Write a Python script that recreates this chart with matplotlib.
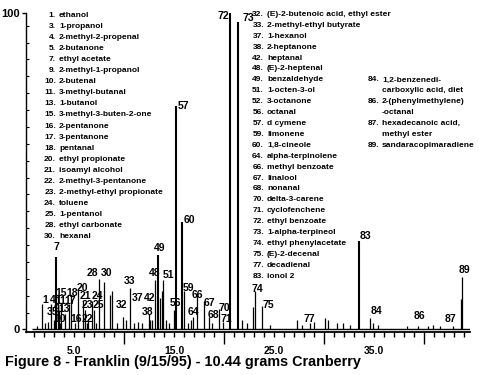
import matplotlib
matplotlib.use('Agg')
import matplotlib.pyplot as plt
import numpy as np

# peak table: retention time (min), relative height, label
peak_rt = [1.8, 2.4, 2.7, 3.0, 3.2, 3.45, 3.6, 3.7, 4.1, 3.35, 5.1, 4.5, 4.7,
           5.4, 5.9, 6.3, 6.1, 6.8, 7.0, 7.5, 8.0, 9.9, 10.6, 11.4, 12.45, 12.6,
           13.1, 13.4, 13.9, 15.0, 15.2, 16.0, 15.8, 16.9, 17.3, 18.0, 18.5,
           19.5, 19.9, 20.6, 21.4, 23.1, 23.8, 28.6, 33.5, 34.6, 39.4, 42.9, 43.8]
peak_h = [8, 2.5, 8, 3, 23, 6, 2, 8, 5, 11, 2, 8, 11,
          12.5, 9, 2, 6, 9, 6, 16, 15, 4, 13, 2.5, 5, 3,
          15.5, 23.5, 15.5, 6, 70.5, 12, 34, 4, 11.5, 9, 4,
          6.5, 2.5, 100, 97, 12, 7.5, 2, 28, 3.5, 1, 1, 16.5]
peak_label = ['1', '3', '4', '5', '7', '9', '10', '11', '13', '15', '16', '17', '18',
              '20', '21', '22', '23', '24', '25', '28', '30', '32', '33', '37', '38', '42',
              '48', '49', '51', '56', '57', '59', '60', '64', '66', '67', '68',
              '70', '71', '72', '73', '74', '75', '77', '83', '84', '86', '87', '89']

# unlabeled peaks
small_rt = [1.3, 2.1, 6.4, 7.2, 8.6, 8.8, 9.3, 10.2, 11.0, 11.8, 12.8, 13.6, 13.75,
            14.2, 14.5, 16.4, 16.7, 18.8, 21.8, 22.3, 22.9, 24.6, 27.3, 27.8, 29.0,
            30.1, 30.4, 31.3, 31.9, 32.6, 34.9, 35.4, 38.3, 40.4, 40.9, 41.6, 43.7]
small_h = [1, 2, 3, 2, 11, 12, 2, 3, 2, 2, 3, 10, 12,
           3, 2, 2, 3, 2, 3, 2, 7, 1.5, 3, 1.5, 2.5,
           3.5, 3, 2, 2, 1.5, 2, 1.5, 1, 1, 1.5, 1, 9.5]

legend_left = ['1. ethanol', '3. 1-propanol', '4. 2-methyl-2-propenal', '5. 2-butanone',
               '7. ethyl acetate', '9. 2-methyl-1-propanol', '10. 2-butenal',
               '11. 3-methyl-butanal', '13. 1-butanol', '15. 3-methyl-3-buten-2-one',
               '16. 2-pentanone', '17. 3-pentanone', '18. pentanal', '20. ethyl propionate',
               '21. isoamyl alcohol', '22. 2-methyl-3-pentanone',
               '23. 2-methyl-ethyl propionate', '24. toluene', '25. 1-pentanol',
               '28. ethyl carbonate', '30. hexanal']
legend_mid = ['32. (E)-2-butenoic acid, ethyl ester', '33. 2-methyl-ethyl butyrate',
              '37. 1-hexanol', '38. 2-heptanone', '42. heptanal', '48. (E)-2-heptenal',
              '49. benzaldehyde', '51. 1-octen-3-ol', '52. 3-octanone', '56. octanal',
              '57. d cymene', '59. limonene', '60. 1,8-cineole', '64. alpha-terpinolene',
              '66. methyl benzoate', '67. linalool', '68. nonanal', '70. delta-3-carene',
              '71. cyclofenchene', '72. ethyl benzoate', '73. 1-alpha-terpineol',
              '74. ethyl phenylacetate', '75. (E)-2-decenal', '77. decadienal', '83. ionol 2']
legend_right = ['84. 1,2-benzenedi-', '   carboxylic acid, diet', '86. 2-(phenylmethylene)',
                '   -octanal', '87. hexadecanoic acid,', '   methyl ester',
                '89. sandaracopimaradiene']

# where each peak number is written (x, bottom y, alignment)
label_pos = {
    '1': (2.1, 7.8, 'center'), '4': (2.85, 7.8, 'center'),
    '3': (2.55, 3.8, 'center'), '5': (3.05, 3.8, 'center'),
    '7': (3.2, 24.5, 'center'),
    '15': (3.75, 10.0, 'center'), '18': (4.85, 10.0, 'center'),
    '11': (3.7, 7.5, 'center'), '17': (4.6, 7.5, 'center'),
    '9': (3.2, 5.0, 'center'), '13': (4.05, 5.0, 'center'),
    '10': (3.6, 1.6, 'center'), '16': (5.2, 1.6, 'center'), '22': (6.35, 1.6, 'center'),
    '20': (5.85, 11.6, 'center'),
    '21': (6.1, 9.1, 'center'), '24': (7.3, 9.1, 'center'),
    '23': (6.3, 6.0, 'center'), '25': (7.45, 6.0, 'center'),
    '28': (7.45, 16.3, 'right'), '30': (8.3, 16.3, 'center'),
    '32': (9.75, 6.3, 'center'), '33': (10.6, 13.8, 'center'),
    '37': (11.35, 8.5, 'center'), '42': (12.55, 8.5, 'center'),
    '38': (12.35, 3.8, 'center'),
    '48': (13.1, 16.3, 'center'), '49': (13.6, 24.1, 'center'),
    '51': (13.85, 15.7, 'left'),
    '56': (14.6, 6.9, 'left'), '57': (15.35, 69.0, 'left'),
    '59': (15.9, 11.6, 'left'), '60': (15.95, 33.0, 'left'),
    '64': (16.9, 3.8, 'center'), '66': (17.3, 9.4, 'center'),
    '67': (18.55, 6.9, 'center'), '68': (18.95, 3.1, 'center'),
    '70': (20.0, 5.3, 'center'), '71': (20.25, 1.6, 'center'),
    '72': (20.5, 97.5, 'right'), '73': (21.85, 96.8, 'left'),
    '74': (23.3, 11.3, 'center'), '75': (23.85, 6.0, 'left'),
    '77': (28.55, 1.6, 'center'), '83': (33.6, 27.9, 'left'),
    '84': (35.2, 4.4, 'center'), '86': (39.5, 2.8, 'center'),
    '87': (42.6, 1.6, 'center'), '89': (44.0, 17.2, 'center'),
}

W, H = 479, 375
FONT = ['Liberation Sans', 'DejaVu Sans']

fig = plt.figure(figsize=(W / 100, H / 100), dpi=100)
ax = fig.add_axes([26 / W, 43 / H, 444 / W, 319 / H])
ax.set_xlim(0.2, 44.6)
ax.set_ylim(-0.8, 100)

all_rt = np.array(peak_rt + small_rt)
all_h = np.array(peak_h + small_h)
lw = np.where(all_h > 20, 1.5, 0.9)
ax.vlines(all_rt, 0, all_h, colors='black', linewidth=lw)
ax.hlines(0, 0.8, 44.6, colors='black', linewidth=1.0)

for lab in peak_label:
    x, y, ha = label_pos[lab]
    ax.text(x, y, lab, ha=ha, va='bottom', fontsize=7.5, fontweight='bold',
            family=FONT)

for s in ['top', 'right']:
    ax.spines[s].set_visible(False)
ax.spines['left'].set_linewidth(1.0)
ax.spines['bottom'].set_linewidth(1.3)

# x axis: long ticks every 10, short every 1, labels at 5, 15, 25, 35
ax.set_xticks([10, 20, 30, 40], labels=['', '', '', ''])
minor = [t for t in range(1, 45) if t % 10 != 0]
ax.set_xticks(minor, labels=[f'{t:.1f}' if t % 10 == 5 else '' for t in minor], minor=True)
ax.tick_params(axis='x', which='major', length=8.5, width=1.0, direction='out')
ax.tick_params(axis='x', which='minor', length=3.8, width=1.0, direction='out', pad=6)
for t in ax.get_xticklabels(minor=True):
    t.set_fontsize(7.5)
    t.set_fontweight('bold')
    t.set_family(FONT)

ystep = 100 / 18.75
ax.set_yticks([0, 100], labels=['0', '100'])
ax.set_yticks([k * ystep for k in range(1, 19)], minor=True)
ax.tick_params(axis='y', which='major', length=3, width=1.0, direction='out', pad=1.5)
ax.tick_params(axis='y', which='minor', length=2, width=0.8, direction='in')
for t in ax.get_yticklabels():
    t.set_fontsize(8)
    t.set_fontweight('bold')
    t.set_family(FONT)


def put(xp, yp, s, ha='left'):
    fig.text(xp / W, 1 - yp / H, s, ha=ha, va='center', fontsize=6.0,
             fontweight='bold', family=FONT)


def column(items, x_num, x_name, y0, dy):
    for i, item in enumerate(items):
        yp = y0 + i * dy
        if item.startswith('   '):
            put(x_name, yp, item.strip())
        else:
            num, name = item.split(' ', 1)
            put(x_num, yp, num, ha='right')
            put(x_name, yp, name)


column(legend_left, 56, 59, 15.5, 11.05)
column(legend_mid, 264, 267, 14.5, 10.9)
column(legend_right, 379, 382, 14.5 + 6 * 10.9, 10.9)

fig.text(5 / W, 1 - 362 / H, 'Figure 8 - Franklin (9/15/95) - 10.44 grams Cranberry',
         ha='left', va='center', fontsize=10.4, fontweight='bold', family=FONT)

fig.savefig('out.png', dpi=100)
